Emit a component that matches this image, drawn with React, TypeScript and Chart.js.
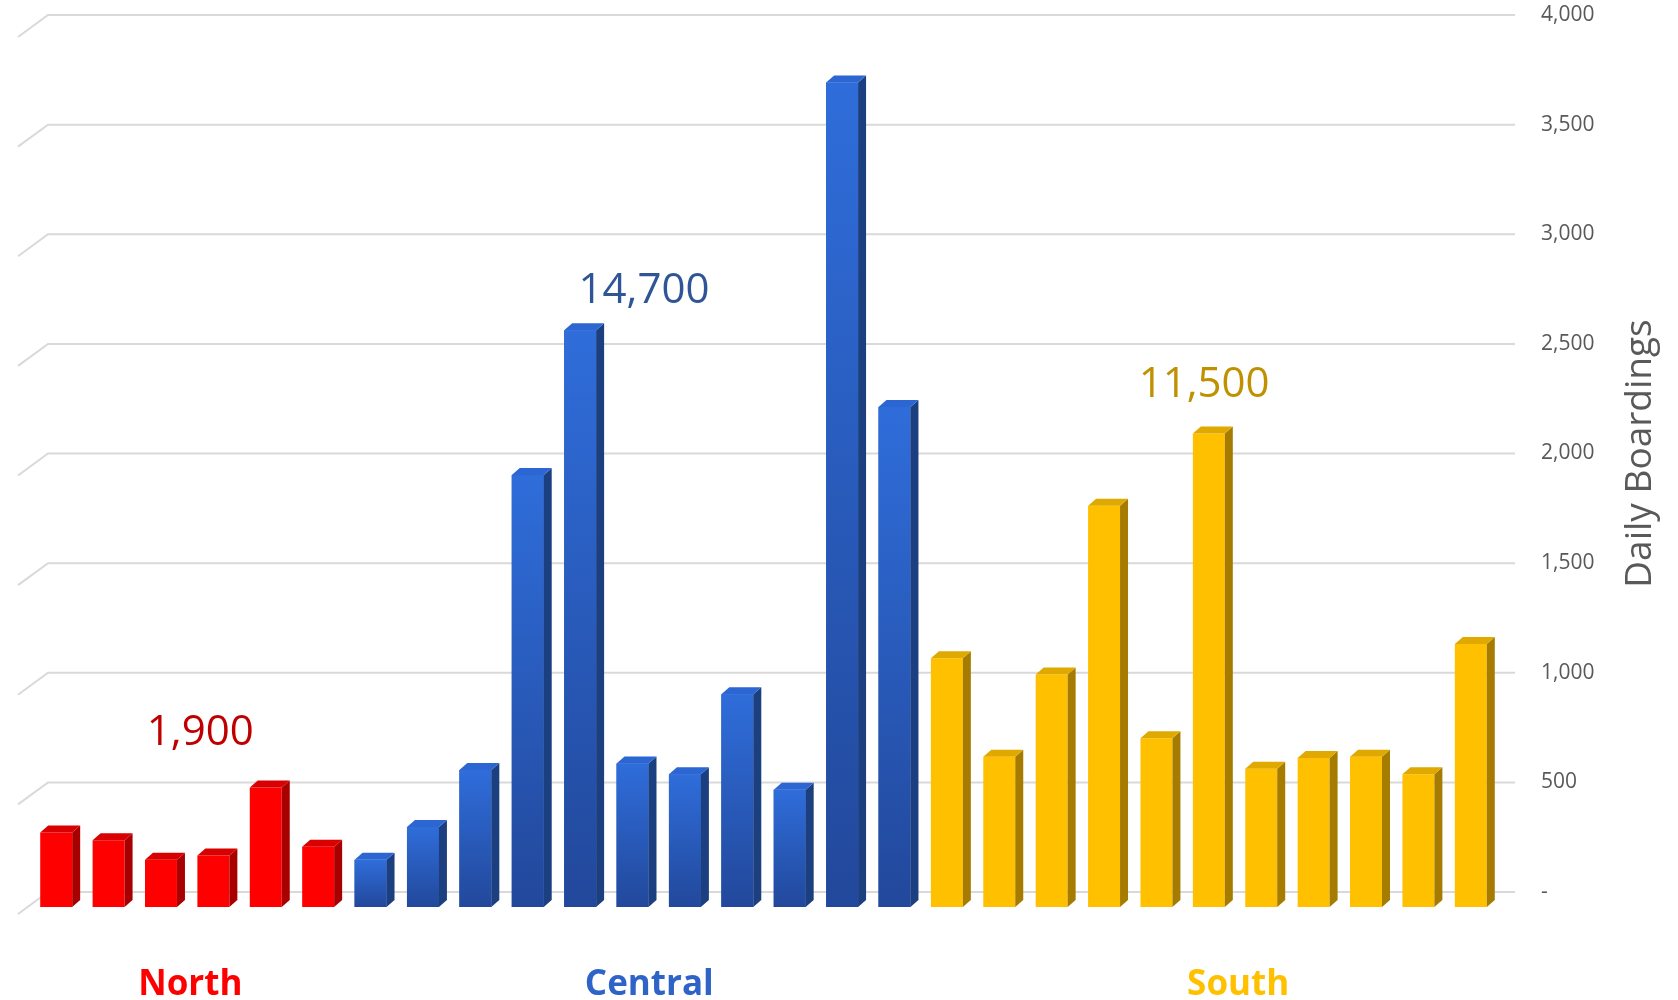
import React, { useEffect, useRef } from "react";
import { Chart, registerables } from "chart.js";

Chart.register(...registerables);

// ---- Data ----
const northValues = [340, 305, 215, 235, 545, 275];
const centralValues = [215, 365, 625, 1970, 2630, 655, 605, 970, 535, 3760, 2280];
const southValues = [1135, 685, 1060, 1830, 770, 2160, 630, 680, 685, 605, 1200];
const groupNames = ["North", "Central", "South"];
const groupTotals = ["1,900", "14,700", "11,500"];
const axisTitle = "Daily Boardings";
const yMin = 0;
const yMax = 4000;
const yStep = 500;

const groups = [northValues, centralValues, southValues];
const categories: string[] = [];
const values: number[] = [];
const groupIndex: number[] = [];
groups.forEach((arr, g) => {
  arr.forEach((v, i) => {
    categories.push(`${groupNames[g]} ${i + 1}`);
    values.push(v);
    groupIndex.push(g);
  });
});

// ---- Styles ----
const FRONT = ["#FF0000", "#2A62CC", "#FFC000"];
const SIDE = ["#A80000", "#1C3F80", "#A67C00"];
const TOP = ["#D80000", "#2C66D2", "#E0A900"];
const TOTAL_COLORS = ["#C00000", "#2F5597", "#BF9000"];
const NAME_COLORS = ["#FF0000", "#2E63C8", "#FFC000"];
// label anchor positions (category index, value units)
const TOTAL_POS = [
  [2.75, 739],
  [11.22, 2755],
  [21.91, 2326],
];
const NAME_POS = [2.56, 11.32, 22.56];
const NAME_VALUE = -401;

const BACK_DX = 18;
const BACK_DY = -15;
const DEPTH_X = 8;
const DEPTH_Y = 7;

const depthPlugin = {
  id: "depth3d",
  beforeDatasetsDraw(chart: any) {
    const { ctx, chartArea, scales } = chart;
    const y = scales.y;
    ctx.save();
    ctx.strokeStyle = "#D9D9D9";
    ctx.lineWidth = 2;
    for (let v = yMin; v <= yMax; v += yStep) {
      const yb = y.getPixelForValue(v) + BACK_DY;
      ctx.beginPath();
      ctx.moveTo(chartArea.left - 12, yb + 22);
      ctx.lineTo(chartArea.left + BACK_DX, yb);
      ctx.lineTo(chartArea.right + BACK_DX, yb);
      ctx.stroke();
    }
    ctx.restore();
  },
  afterDatasetsDraw(chart: any) {
    const { ctx } = chart;
    const meta = chart.getDatasetMeta(0);
    ctx.save();
    meta.data.forEach((el: any, i: number) => {
      const { x, y, base, width } = el.getProps(["x", "y", "base", "width"], true);
      const g = groupIndex[i];
      const l = x - width / 2;
      const r = x + width / 2;
      if (g === 1) {
        const grad = ctx.createLinearGradient(0, y, 0, base);
        grad.addColorStop(0, "#2F6DDA");
        grad.addColorStop(1, "#22489B");
        ctx.fillStyle = grad;
        ctx.fillRect(l, y, width, base - y);
      }
      // side face
      ctx.fillStyle = SIDE[g];
      ctx.beginPath();
      ctx.moveTo(r, y);
      ctx.lineTo(r + DEPTH_X, y - DEPTH_Y);
      ctx.lineTo(r + DEPTH_X, base - DEPTH_Y);
      ctx.lineTo(r, base);
      ctx.closePath();
      ctx.fill();
      // top face
      ctx.fillStyle = TOP[g];
      ctx.beginPath();
      ctx.moveTo(l, y);
      ctx.lineTo(l + DEPTH_X, y - DEPTH_Y);
      ctx.lineTo(r + DEPTH_X, y - DEPTH_Y);
      ctx.lineTo(r, y);
      ctx.closePath();
      ctx.fill();
    });
    ctx.restore();
  },
  afterDraw(chart: any) {
    const { ctx, chartArea, scales } = chart;
    const xs = scales.x;
    const ys = scales.y;
    ctx.save();
    ctx.textAlign = "center";
    ctx.textBaseline = "alphabetic";
    // totals
    ctx.font = '42px "Open Sans"';
    groupTotals.forEach((t, g) => {
      ctx.fillStyle = TOTAL_COLORS[g];
      ctx.fillText(t, xs.getPixelForValue(TOTAL_POS[g][0]), ys.getPixelForValue(TOTAL_POS[g][1]));
    });
    // group names
    ctx.font = 'bold 35px "Open Sans"';
    groupNames.forEach((n, g) => {
      ctx.fillStyle = NAME_COLORS[g];
      ctx.fillText(n, xs.getPixelForValue(NAME_POS[g]), ys.getPixelForValue(NAME_VALUE));
    });
    // axis title
    ctx.translate(chartArea.right + 143, ys.getPixelForValue((yMin + yMax) / 2) + BACK_DY);
    ctx.rotate(-Math.PI / 2);
    ctx.textBaseline = "middle";
    ctx.font = '37px "Open Sans"';
    ctx.fillStyle = "#595959";
    ctx.fillText(axisTitle, 0, 0);
    ctx.restore();
  },
};

export default function App() {
  const canvasRef = useRef<HTMLCanvasElement | null>(null);

  useEffect(() => {
    if (!canvasRef.current) return;
    const chart = new Chart(canvasRef.current, {
      type: "bar",
      data: {
        labels: categories,
        datasets: [
          {
            data: values,
            backgroundColor: values.map((_, i) => FRONT[groupIndex[i]]),
            borderWidth: 0,
            barPercentage: 0.61,
            categoryPercentage: 1.0,
          },
        ],
      },
      options: {
        responsive: false,
        devicePixelRatio: 1,
        animation: false,
        layout: { padding: { left: 30, top: 30, bottom: 93, right: 0 } },
        plugins: {
          legend: { display: false },
          tooltip: { enabled: false },
        },
        scales: {
          x: {
            type: "category",
            display: false,
            offset: true,
          },
          y: {
            position: "right",
            min: yMin,
            max: yMax,
            grid: { display: false, drawTicks: false },
            border: { display: false },
            ticks: {
              stepSize: yStep,
              padding: 44,
              labelOffset: BACK_DY,
              color: "#595959",
              font: { family: "Open Sans", size: 21 },
              callback: (v: any) => (Number(v) === 0 ? "-" : Number(v).toLocaleString("en-US")),
            },
            afterFit: (scale: any) => {
              scale.width = 181;
              scale.paddingTop = 0;
              scale.paddingBottom = 0;
            },
          },
        },
      },
      plugins: [depthPlugin],
    });
    return () => chart.destroy();
  }, []);

  return (
    <div style={{ position: "fixed", left: 0, top: 0, width: 1678, height: 1000, background: "#fff" }}>
      <canvas ref={canvasRef} width={1678} height={1000} style={{ display: "block" }} />
    </div>
  );
}
